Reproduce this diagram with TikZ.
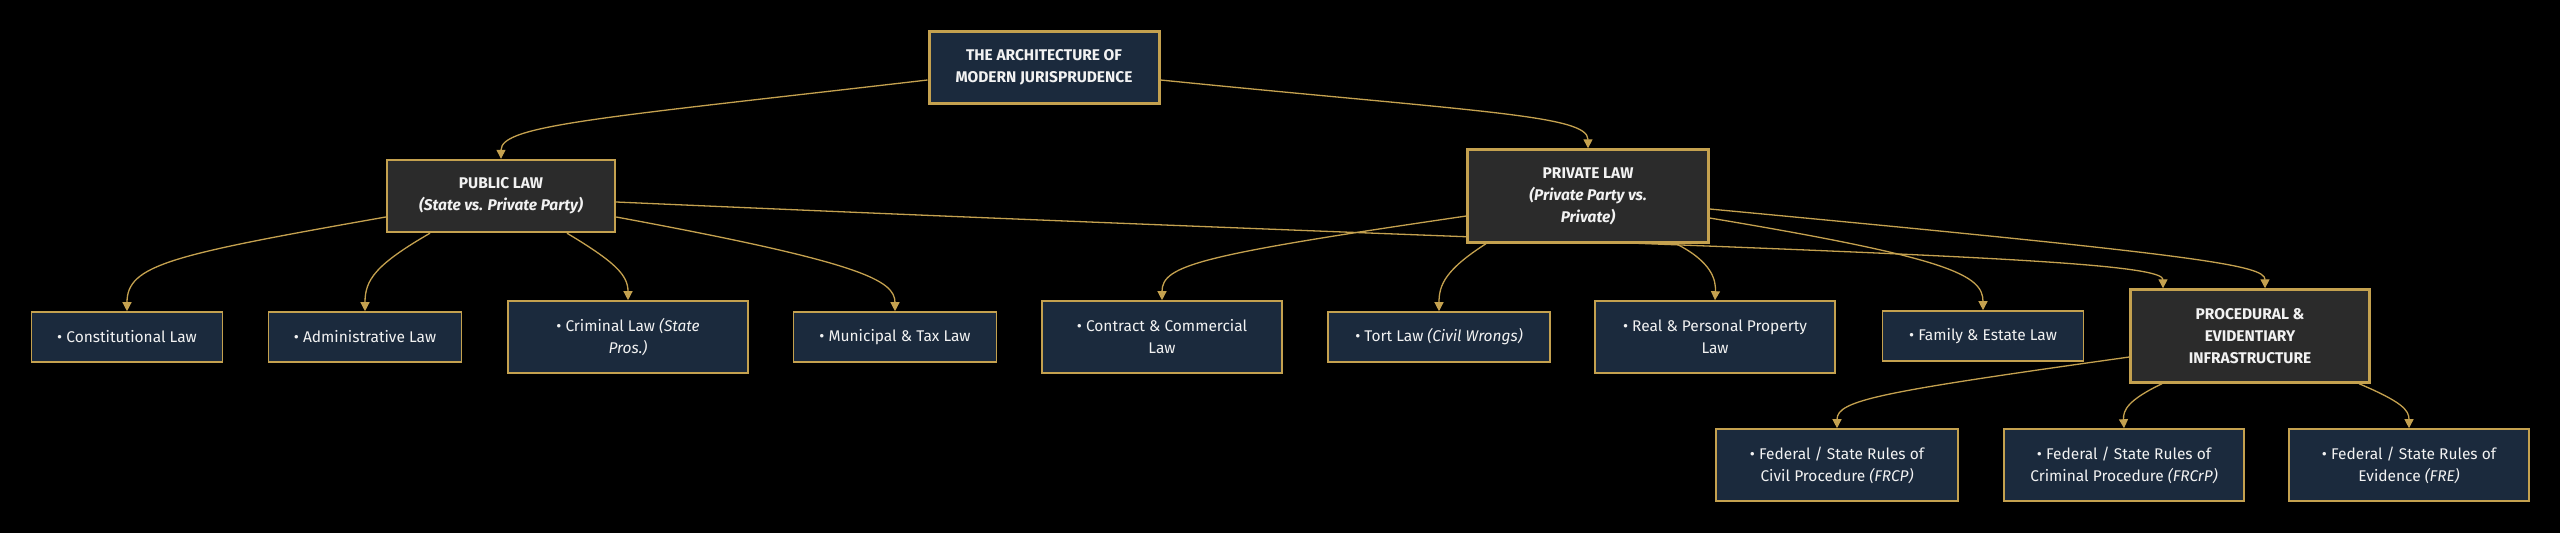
\documentclass[tikz,border=0pt]{standalone}
\usepackage{fontspec}
\setmainfont{Fira Sans}
\usetikzlibrary{arrows.meta,backgrounds}
\definecolor{bgc}{HTML}{000000}
\definecolor{navy}{HTML}{1B2A3D}
\definecolor{catgray}{HTML}{2B2B2B}
\definecolor{gold}{HTML}{C4A14F}
\definecolor{txt}{HTML}{F2F2F2}
\tikzset{
  basebox/.style={draw=gold, text=txt, align=center, inner sep=0pt,
    font=\fontsize{15.5}{22}\selectfont},
  leaf/.style={basebox, fill=navy, line width=1.6pt},
  catbox/.style={basebox, fill=catgray, line width=2.4pt,
    font=\fontsize{15.5}{22}\selectfont\bfseries},
  rootbox/.style={basebox, fill=navy, line width=3pt,
    font=\fontsize{15.5}{22}\selectfont\bfseries},
  link/.style={draw=gold, line width=1.3pt,
    -{Triangle[length=9pt,width=9pt]}},
}
\begin{document}
\begin{tikzpicture}[x=1pt,y=-1pt]
\useasboundingbox (0,0) rectangle (2560,533);
% nodes
\node[rootbox, minimum width=230pt, minimum height=72pt] (root) at (1044,67) {THE ARCHITECTURE OF\\MODERN JURISPRUDENCE};
\node[catbox, minimum width=228pt, minimum height=72pt] (pub) at (501,196) {PUBLIC LAW\\\textit{(State vs. Private Party)}};
\node[catbox, minimum width=241pt, minimum height=93pt] (priv) at (1588,196) {PRIVATE LAW\\\textit{(Private Party vs.}\\\textit{Private)}};
\node[leaf, minimum width=191pt, minimum height=50pt] (const) at (127,337) {• Constitutional Law};
\node[leaf, minimum width=193pt, minimum height=50pt] (admin) at (365,337) {• Administrative Law};
\node[leaf, minimum width=240pt, minimum height=72pt] (crim) at (628,337) {• Criminal Law \textit{(State}\\\textit{Pros.)}};
\node[leaf, minimum width=203pt, minimum height=50pt] (muni) at (895,337) {• Municipal \& Tax Law};
\node[leaf, minimum width=240pt, minimum height=72pt] (contract) at (1162,337) {• Contract \& Commercial\\Law};
\node[leaf, minimum width=222pt, minimum height=50pt] (tort) at (1439,337) {• Tort Law \textit{(Civil Wrongs)}};
\node[leaf, minimum width=240pt, minimum height=72pt] (real) at (1715,337) {• Real \& Personal Property\\Law};
\node[leaf, minimum width=201pt, minimum height=50pt] (family) at (1983,336) {• Family \& Estate Law};
\node[catbox, minimum width=239pt, minimum height=93pt] (proc) at (2250,336) {PROCEDURAL \&\\EVIDENTIARY\\INFRASTRUCTURE};
\node[leaf, minimum width=242pt, minimum height=72pt] (frcp) at (1837,465) {• Federal / State Rules of\\Civil Procedure \textit{(FRCP)}};
\node[leaf, minimum width=240pt, minimum height=72pt] (frcrp) at (2124,465) {• Federal / State Rules of\\Criminal Procedure \textit{(FRCrP)}};
\node[leaf, minimum width=240pt, minimum height=72pt] (fre) at (2409,465) {• Federal / State Rules of\\Evidence \textit{(FRE)}};
% edges
\begin{scope}[on background layer]
\fill[bgc] (0,0) rectangle (2560,533);
\draw[link] ([yshift=-13pt]root.west) .. controls (600,118) and (501,125) .. (pub.north);
\draw[link] ([yshift=-13pt]root.east) .. controls (1480,112) and (1588,115) .. (priv.north);
\draw[link] ([yshift=-21pt]pub.west) .. controls (170,255) and (127,265) .. (const.north);
\draw[link] ([xshift=-71pt]pub.south) .. controls (375,265) and (365,280) .. (admin.north);
\draw[link] ([xshift=66pt]pub.south) .. controls (615,262) and (628,275) .. (crim.north);
\draw[link] ([yshift=-21pt]pub.east) .. controls (860,262) and (895,280) .. (muni.north);
\draw[link] ([yshift=-6pt]pub.east) .. controls (1700,250) and (2163,255) .. ([xshift=-87pt]proc.north);
\draw[link] ([yshift=-20pt]priv.west) .. controls (1200,255) and (1162,265) .. (contract.north);
\draw[link] ([xshift=-102pt]priv.south) .. controls (1445,270) and (1439,285) .. (tort.north);
\draw[link] ([xshift=88pt]priv.south) .. controls (1712,262) and (1716,280) .. (real.north);
\draw[link] ([yshift=-22pt]priv.east) .. controls (1950,258) and (1983,275) .. (family.north);
\draw[link] ([yshift=-13pt]priv.east) .. controls (2200,255) and (2265,265) .. ([xshift=15pt]proc.north);
\draw[link] ([yshift=-21pt]proc.west) .. controls (1880,392) and (1837,400) .. (frcp.north);
\draw[link] ([xshift=-88pt]proc.south) .. controls (2128,400) and (2123,410) .. (frcrp.north);
\draw[link] ([xshift=109pt]proc.south) .. controls (2402,402) and (2409,410) .. (fre.north);
\end{scope}
\end{tikzpicture}
\end{document}
